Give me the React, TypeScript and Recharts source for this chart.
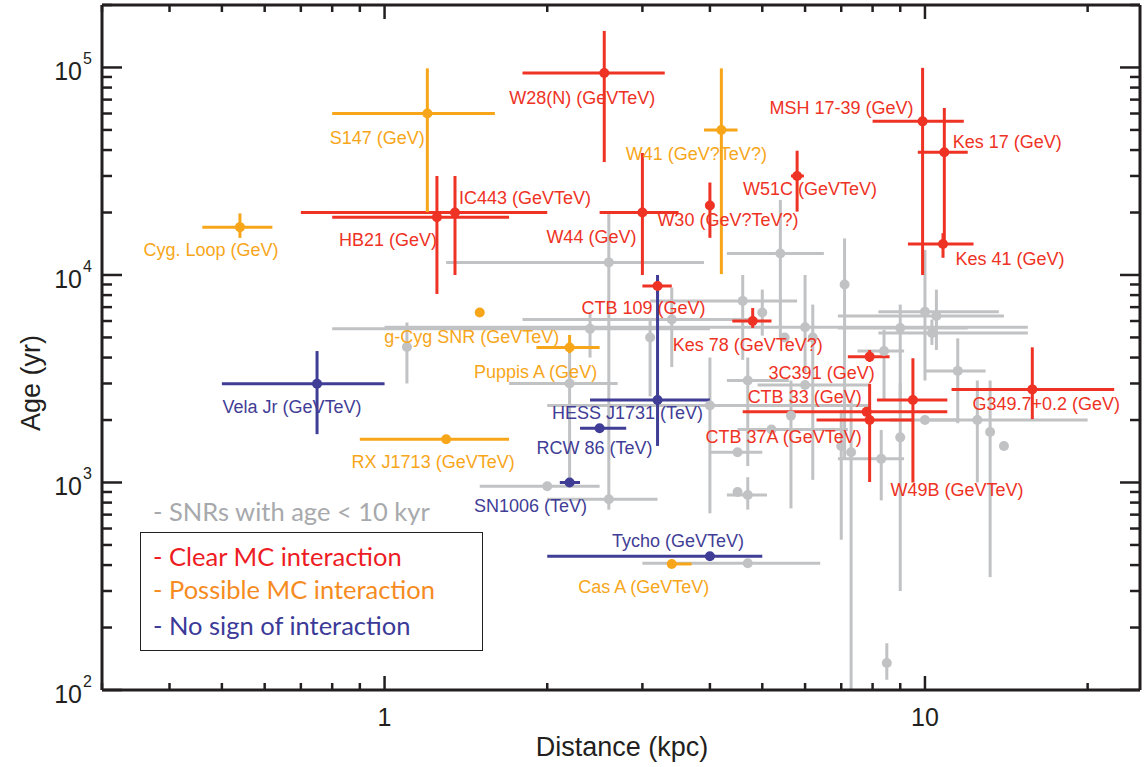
import { ScatterChart, Scatter, XAxis, YAxis, ErrorBar } from 'recharts';

const FONT = '"Liberation Sans", Arial, Helvetica, sans-serif';
const LEGEND_FONT = 'Lato, "Open Sans", sans-serif';
const INK = '#231f20';

const RED = '#ee3224';
const ORANGE = '#f7a61a';
const BLUE = '#3f3d96';
const GRAY = '#c1c2c4';

// distance (kpc) and age (yr), each with the lower / upper end of its error bar
const clearMC = [
  { name: 'W28(N) (GeVTeV)', d: 2.55, dLo: 1.8, dHi: 3.3, age: 94000, ageLo: 35000, ageHi: 150000 },
  { name: 'IC443 (GeVTeV)', d: 1.35, dLo: 0.7, dHi: 2.0, age: 20000, ageLo: 10000, ageHi: 30000 },
  { name: 'HB21 (GeV)', d: 1.25, dLo: 0.8, dHi: 1.7, age: 19000, ageLo: 8100, ageHi: 30000 },
  { name: 'W44 (GeV)', d: 3.0, dLo: 2.5, dHi: 3.5, age: 20000, ageLo: 10000, ageHi: 38700 },
  { name: 'W30 (GeV?TeV?)', d: 4.0, dLo: 4.0, dHi: 4.0, age: 21600, ageLo: 15100, ageHi: 27900 },
  { name: 'W51C (GeVTeV)', d: 5.8, dLo: 5.65, dHi: 5.97, age: 30000, ageLo: 20200, ageHi: 39700 },
  { name: 'MSH 17-39 (GeV)', d: 9.9, dLo: 8.0, dHi: 11.8, age: 55000, ageLo: 10000, ageHi: 99600 },
  { name: 'Kes 17 (GeV)', d: 10.86, dLo: 9.7, dHi: 12.0, age: 39000, ageLo: 14700, ageHi: 63800 },
  { name: 'Kes 41 (GeV)', d: 10.8, dLo: 9.3, dHi: 12.3, age: 14100, ageLo: 12100, ageHi: 15900 },
  { name: 'CTB 109 (GeV)', d: 3.2, dLo: 3.0, dHi: 3.4, age: 8850, ageLo: 7900, ageHi: 9500 },
  { name: 'Kes 78 (GeVTeV?)', d: 4.8, dLo: 4.4, dHi: 5.2, age: 6000, ageLo: 5560, ageHi: 6930 },
  { name: '3C391 (GeV)', d: 7.9, dLo: 7.2, dHi: 8.6, age: 4040, ageLo: 3810, ageHi: 4350 },
  { name: 'W49B (GeVTeV)', d: 9.5, dLo: 8.15, dHi: 11.0, age: 2500, ageLo: 1000, ageHi: 3970 },
  { name: 'CTB 33 (GeV)', d: 7.8, dLo: 4.6, dHi: 11.0, age: 2190, ageLo: 2190, ageHi: 2190 },
  { name: 'CTB 37A (GeVTeV)', d: 7.9, dLo: 6.3, dHi: 9.46, age: 2000, ageLo: 1005, ageHi: 2990 },
  { name: 'G349.7+0.2 (GeV)', d: 15.8, dLo: 11.2, dHi: 22.4, age: 2810, ageLo: 2020, ageHi: 4480 },
];

const possibleMC = [
  { name: 'S147 (GeV)', d: 1.2, dLo: 0.8, dHi: 1.6, age: 60000, ageLo: 20100, ageHi: 99000 },
  { name: 'Cyg. Loop (GeV)', d: 0.54, dLo: 0.46, dHi: 0.62, age: 17000, ageLo: 15100, ageHi: 19800 },
  { name: 'W41 (GeV?TeV?)', d: 4.2, dLo: 3.9, dHi: 4.5, age: 50000, ageLo: 10100, ageHi: 99000 },
  { name: 'g-Cyg SNR (GeVTeV)', d: 1.5, dLo: 1.5, dHi: 1.5, age: 6600, ageLo: 6600, ageHi: 6600 },
  { name: 'Puppis A (GeV)', d: 2.2, dLo: 1.91, dHi: 2.5, age: 4470, ageLo: 4200, ageHi: 5140 },
  { name: 'RX J1713 (GeVTeV)', d: 1.3, dLo: 0.9, dHi: 1.7, age: 1615, ageLo: 1615, ageHi: 1615 },
  { name: 'Cas A (GeVTeV)', d: 3.4, dLo: 3.4, dHi: 3.7, age: 405, ageLo: 405, ageHi: 405 },
];

const noInteraction = [
  { name: 'Vela Jr (GeVTeV)', d: 0.75, dLo: 0.5, dHi: 1.0, age: 2990, ageLo: 1710, ageHi: 4300 },
  { name: 'HESS J1731 (TeV)', d: 3.2, dLo: 2.4, dHi: 4.0, age: 2500, ageLo: 1500, ageHi: 10000 },
  { name: 'RCW 86 (TeV)', d: 2.5, dLo: 2.3, dHi: 2.8, age: 1825, ageLo: 1825, ageHi: 1825 },
  { name: 'SN1006 (TeV)', d: 2.2, dLo: 2.11, dHi: 2.3, age: 1000, ageLo: 1000, ageHi: 1000 },
  { name: 'Tycho (GeVTeV)', d: 4.0, dLo: 2.0, dHi: 5.0, age: 441, ageLo: 441, ageHi: 441 },
];

// other SNRs: [d, dLo, dHi, age, ageLo, ageHi]
const otherSNRs: number[][] = [
  [2.6, 1.3, 3.9, 11500, 2500, 19900],
  [2.4, 0.8, 4.0, 5500, 4000, 6600],
  [1.1, 1.1, 1.1, 4500, 3000, 5900],
  [3.1, 3.1, 3.1, 5000, 2600, 6100],
  [3.4, 1.8, 4.9, 6100, 3600, 8700],
  [2.2, 1.7, 2.7, 3000, 950, 4350],
  [2.0, 1.5, 2.5, 960, 960, 960],
  [2.6, 2.0, 3.2, 830, 740, 2500],
  [4.0, 2.0, 7.9, 2350, 710, 4000],
  [5.4, 4.3, 6.5, 12700, 4900, 23000],
  [7.1, 7.1, 7.1, 9000, 1300, 15000],
  [4.6, 3.1, 5.8, 7500, 3900, 10000],
  [5.0, 5.0, 5.0, 6600, 5100, 8500],
  [6.0, 1.0, 15.5, 5600, 3400, 10000],
  [5.5, 5.5, 5.5, 5000, 5000, 5000],
  [6.2, 6.2, 6.2, 5000, 1030, 7200],
  [4.7, 4.3, 5.6, 3100, 1200, 4000],
  [6.0, 4.9, 7.9, 2950, 2950, 2950],
  [5.65, 5.65, 5.65, 2100, 750, 3100],
  [4.5, 4.0, 5.0, 1400, 1400, 1400],
  [4.5, 4.5, 4.5, 900, 900, 900],
  [4.7, 4.3, 5.1, 870, 740, 1060],
  [4.7, 3.0, 6.4, 408, 408, 408],
  [5.2, 4.5, 7.2, 1800, 1800, 1800],
  [7.0, 7.0, 7.0, 1500, 530, 2240],
  [7.3, 7.3, 7.3, 1400, 100, 2500],
  [10.0, 8.2, 13.7, 6650, 3100, 13200],
  [10.5, 6.9, 14.0, 6350, 4350, 8500],
  [9.0, 6.9, 12.0, 5550, 2500, 7200],
  [10.3, 8.2, 15.5, 5250, 4600, 6100],
  [8.4, 7.5, 9.15, 4300, 2500, 5450],
  [11.5, 10.0, 12.95, 3450, 1930, 4950],
  [10.0, 8.6, 11.6, 2000, 2000, 2000],
  [12.5, 10.2, 20.0, 2000, 1000, 3100],
  [13.2, 13.2, 13.2, 1750, 350, 3100],
  [14.0, 14.0, 14.0, 1500, 1500, 1500],
  [9.0, 9.0, 9.0, 1650, 300, 3000],
  [8.3, 6.9, 9.15, 1300, 820, 1790],
  [8.5, 8.5, 8.5, 135, 112, 168],
];

const X_DOMAIN = [0.3, 25];
const Y_DOMAIN = [100, 200000];
const X_DECADES = [0.1, 1, 10];
const Y_DECADES = [100, 1000, 10000, 100000];

// where each name sits, relative to its dot
const LABEL_OFFSET: Record<string, [number, number]> = {
  'W28(N) (GeVTeV)': [-22, 25],
  'IC443 (GeVTeV)': [70, -15],
  'HB21 (GeV)': [-49, 23],
  'W44 (GeV)': [-51, 24],
  'W30 (GeV?TeV?)': [18, 14],
  'W51C (GeVTeV)': [13, 13],
  'MSH 17-39 (GeV)': [-81, -13],
  'Kes 17 (GeV)': [63, -10],
  'Kes 41 (GeV)': [67, 15],
  'CTB 109 (GeV)': [-14, 22],
  'Kes 78 (GeVTeV?)': [-5, 24],
  '3C391 (GeV)': [-48, 16],
  'W49B (GeVTeV)': [44, 90],
  'CTB 33 (GeV)': [-62, -15],
  'CTB 37A (GeVTeV)': [-86, 17],
  'G349.7+0.2 (GeV)': [14, 15],
  'S147 (GeV)': [-50, 24],
  'Cyg. Loop (GeV)': [-29, 23],
  'W41 (GeV?TeV?)': [-25, 24],
  'g-Cyg SNR (GeVTeV)': [-8, 25],
  'Puppis A (GeV)': [-34, 24],
  'RX J1713 (GeVTeV)': [-13, 23],
  'Cas A (GeVTeV)': [-28, 23],
  'Vela Jr (GeVTeV)': [-25, 23],
  'HESS J1731 (TeV)': [-30, 13],
  'RCW 86 (TeV)': [-5, 20],
  'SN1006 (TeV)': [-39, 24],
  'Tycho (GeVTeV)': [-32, -15],
};

type Src = { name?: string; d: number; dLo: number; dHi: number; age: number; ageLo: number; ageHi: number };

const toRows = (list: Src[]) =>
  list.map(p => ({
    ...p,
    ex: [p.d - p.dLo, p.dHi - p.d],
    ey: [p.age - p.ageLo, p.ageHi - p.age],
  }));

const grayRows = toRows(
  otherSNRs.map(([d, dLo, dHi, age, ageLo, ageHi]) => ({ d, dLo, dHi, age, ageLo, ageHi }))
);

// log ticks: 1..9 times each decade, inside the domain
const logTicks = (decades: number[], lo: number, hi: number) => {
  const out: number[] = [];
  decades.forEach(dec => {
    for (let m = 1; m <= 9; m++) {
      const v = +(m * dec).toPrecision(6);
      if (v >= lo - 1e-9 && v <= hi + 1e-9) out.push(v);
    }
  });
  return out;
};
const X_TICKS = logTicks(X_DECADES, X_DOMAIN[0], X_DOMAIN[1]);
const Y_TICKS = logTicks(Y_DECADES, Y_DOMAIN[0], Y_DOMAIN[1]);

const isMajor = (v: number) => {
  const l = Math.log10(v);
  return Math.abs(l - Math.round(l)) < 1e-6;
};

function BottomTick({ x, y, payload }: any) {
  const major = isMajor(payload.value);
  return (
    <g>
      <line x1={x} y1={y} x2={x} y2={y - (major ? 14 : 7)} stroke={INK} strokeWidth={2.5} />
      {major && (
        <text x={x} y={y + 36} textAnchor="middle" fontSize={25} fontFamily={FONT} fill={INK}>
          {payload.value}
        </text>
      )}
    </g>
  );
}

function TopTick({ x, y, payload }: any) {
  const major = isMajor(payload.value);
  return <line x1={x} y1={y} x2={x} y2={y + (major ? 14 : 7)} stroke={INK} strokeWidth={2.5} />;
}

function LeftTick({ x, y, payload }: any) {
  const major = isMajor(payload.value);
  return (
    <g>
      <line x1={x} y1={y} x2={x + (major ? 20 : 10)} y2={y} stroke={INK} strokeWidth={2.5} />
      {major && (
        <g fontFamily={FONT} fill={INK}>
          <text x={x - 20} y={y + 13} textAnchor="end" fontSize={25}>10</text>
          <text x={x - 19} y={y - 3} textAnchor="start" fontSize={16}>
            {Math.round(Math.log10(payload.value))}
          </text>
        </g>
      )}
    </g>
  );
}

function RightTick({ x, y, payload }: any) {
  const major = isMajor(payload.value);
  return <line x1={x} y1={y} x2={x - (major ? 20 : 10)} y2={y} stroke={INK} strokeWidth={2.5} />;
}

const makeShape = (color: string) => (props: any) => {
  const { cx, cy, payload } = props;
  const off = payload.name ? LABEL_OFFSET[payload.name] : null;
  return (
    <g>
      <circle cx={cx} cy={cy} r={5} fill={color} />
      {off && (
        <text
          x={cx + off[0]}
          y={cy + off[1]}
          textAnchor="middle"
          dominantBaseline="central"
          fontSize={18}
          fontFamily={FONT}
          fill={color}
        >
          {payload.name}
        </text>
      )}
    </g>
  );
};

const axisLine = { stroke: INK, strokeWidth: 3 };

export default function App() {
  const groups = [
    { data: grayRows, color: GRAY },
    { data: toRows(clearMC), color: RED },
    { data: toRows(possibleMC), color: ORANGE },
    { data: toRows(noInteraction), color: BLUE },
  ];

  return (
    <div style={{ position: 'absolute', left: 0, top: 0, width: 1145, height: 767, background: '#fff' }}>
      <ScatterChart width={1145} height={767} margin={{ top: 4, right: 4, bottom: 0, left: 0 }}>
        <XAxis
          xAxisId="b"
          type="number"
          dataKey="d"
          scale="log"
          domain={X_DOMAIN}
          allowDataOverflow
          ticks={X_TICKS}
          interval={0}
          tick={<BottomTick />}
          tickLine={false}
          tickSize={0}
          tickMargin={0}
          height={77}
          axisLine={axisLine}
        />
        <XAxis
          xAxisId="t"
          orientation="top"
          type="number"
          dataKey="d"
          scale="log"
          domain={X_DOMAIN}
          allowDataOverflow
          ticks={X_TICKS}
          interval={0}
          tick={<TopTick />}
          tickLine={false}
          tickSize={0}
          tickMargin={0}
          height={1}
          axisLine={axisLine}
        />
        <YAxis
          yAxisId="l"
          type="number"
          dataKey="age"
          scale="log"
          domain={Y_DOMAIN}
          allowDataOverflow
          ticks={Y_TICKS}
          interval={0}
          tick={<LeftTick />}
          tickLine={false}
          tickSize={0}
          tickMargin={0}
          width={102}
          axisLine={axisLine}
        />
        <YAxis
          yAxisId="r"
          orientation="right"
          type="number"
          dataKey="age"
          scale="log"
          domain={Y_DOMAIN}
          allowDataOverflow
          ticks={Y_TICKS}
          interval={0}
          tick={<RightTick />}
          tickLine={false}
          tickSize={0}
          tickMargin={0}
          width={1}
          axisLine={axisLine}
        />
        {groups.map((g, i) => (
          <Scatter
            key={i}
            xAxisId="b"
            yAxisId="l"
            data={g.data}
            fill={g.color}
            shape={makeShape(g.color)}
            isAnimationActive={false}
          >
            <ErrorBar dataKey="ex" direction="x" width={0} stroke={g.color} strokeWidth={3} isAnimationActive={false} />
            <ErrorBar dataKey="ey" direction="y" width={0} stroke={g.color} strokeWidth={3} isAnimationActive={false} />
          </Scatter>
        ))}
      </ScatterChart>

      <div
        style={{
          position: 'absolute', left: 622, top: 747, transform: 'translate(-50%, -50%)',
          fontFamily: FONT, fontSize: 27, lineHeight: 1, color: INK, whiteSpace: 'nowrap',
        }}
      >
        Distance (kpc)
      </div>
      <div
        style={{
          position: 'absolute', left: 31, top: 383, transform: 'translate(-50%, -50%) rotate(-90deg)',
          fontFamily: FONT, fontSize: 27, lineHeight: 1, color: INK, whiteSpace: 'nowrap',
        }}
      >
        Age (yr)
      </div>

      <div
        style={{
          position: 'absolute', left: 153, top: 512, transform: 'translateY(-50%)',
          fontFamily: LEGEND_FONT, fontSize: 25.5, lineHeight: 1, color: '#a7a9ac', whiteSpace: 'nowrap',
        }}
      >
        {'- SNRs with age < 10 kyr'}
      </div>
      <div
        style={{
          position: 'absolute', left: 140, top: 532, width: 343, height: 119,
          border: `1.3px solid ${INK}`, boxSizing: 'border-box',
        }}
      />
      {[
        { text: '- Clear MC interaction', color: '#ed1c24', y: 557 },
        { text: '- Possible MC interaction', color: '#f68b1f', y: 590 },
        { text: '- No sign of interaction', color: '#3b3a98', y: 626 },
      ].map(l => (
        <div
          key={l.text}
          style={{
            position: 'absolute', left: 153, top: l.y, transform: 'translateY(-50%)',
            fontFamily: LEGEND_FONT, fontSize: 25.5, lineHeight: 1, color: l.color, whiteSpace: 'nowrap',
          }}
        >
          {l.text}
        </div>
      ))}
    </div>
  );
}
